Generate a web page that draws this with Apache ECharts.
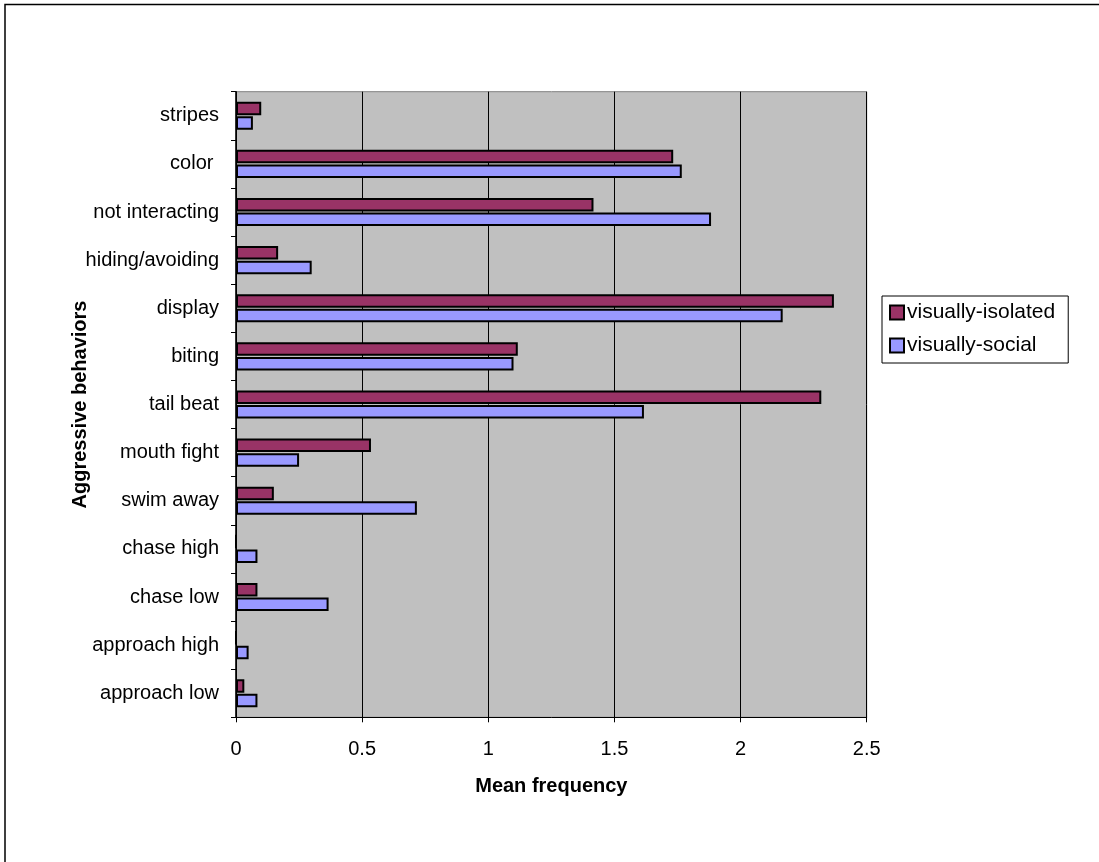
<!DOCTYPE html>
<html>
<head>
<meta charset="utf-8">
<script src="https://cdn.jsdelivr.net/npm/echarts@6/dist/echarts.min.js"></script>
<style>
html,body{margin:0;padding:0;background:#fff;}
#chart{width:1099px;height:862px;}
</style>
</head>
<body>
<div id="chart"></div>
<script>
// Categories listed from bottom to top (ECharts category y-axis starts at the bottom)
const categories = ['approach low','approach high','chase low','chase high','swim away','mouth fight','tail beat','biting','display','hiding/avoiding','not interacting','color ','stripes'];
const isolatedValues = [0.033, 0, 0.085, 0, 0.15, 0.535, 2.32, 1.117, 2.37, 0.167, 1.417, 1.733, 0.1];
const socialValues   = [0.085, 0.05, 0.367, 0.085, 0.717, 0.25, 1.617, 1.1, 2.167, 0.3, 1.883, 1.767, 0.067];
const seriesNames = ['visually-isolated','visually-social'];
const xTicks = [0, 0.5, 1, 1.5, 2, 2.5];

const FONT = '"Liberation Sans", Arial, sans-serif';
const chart = echarts.init(document.getElementById('chart'), null, {renderer:'canvas'});
chart.setOption({
  animation:false,
  backgroundColor:'#fff',
  textStyle:{fontFamily:FONT},
  graphic:[{
    type:'rect', silent:true, z:-1,
    shape:{x:5, y:4.5, width:1200, height:1000},
    style:{fill:'none', stroke:'#000', lineWidth:1.5}
  }],
  grid:{left:236, right:232.3, top:91.7, bottom:144.7, show:true, backgroundColor:'#C0C0C0', borderColor:'#808080', borderWidth:1},
  legend:{
    left:882, top:296, orient:'vertical',
    padding:[6,13,7,7], itemGap:12,
    itemWidth:14, itemHeight:14, icon:'rect',
    borderColor:'#000', borderWidth:1, backgroundColor:'#fff',
    textStyle:{fontFamily:FONT, fontSize:21, color:'#000', padding:[0,0,0,-2]},
    data:seriesNames
  },
  xAxis:{
    type:'value', min:xTicks[0], max:xTicks[xTicks.length-1], interval:0.5,
    name:'Mean frequency', nameLocation:'middle', nameGap:59,
    nameTextStyle:{fontFamily:FONT, fontSize:20, fontWeight:'bold', color:'#000'},
    axisLine:{show:true, lineStyle:{color:'#000', width:1}},
    axisTick:{show:true, length:5, lineStyle:{color:'#000'}},
    axisLabel:{fontFamily:FONT, fontSize:20, color:'#000', margin:22},
    splitLine:{show:true, lineStyle:{color:'#000', width:1}}
  },
  yAxis:{
    type:'category', data:categories,
    name:'Aggressive behaviors', nameLocation:'middle', nameGap:146, nameMoveOverlap:false,
    nameTextStyle:{fontFamily:FONT, fontSize:20, fontWeight:'bold', color:'#000'},
    axisLine:{show:true, lineStyle:{color:'#000', width:1.5}},
    axisTick:{show:true, length:5, lineStyle:{color:'#000'}},
    axisLabel:{fontFamily:FONT, fontSize:20, color:'#000', margin:17},
    splitLine:{show:false}
  },
  series:[
    {name:seriesNames[0], type:'bar', data:isolatedValues, barWidth:13.5, barGap:'9%',
     itemStyle:{color:'#993366', borderColor:'#000', borderWidth:2}},
    {name:seriesNames[1], type:'bar', data:socialValues, barWidth:13.5, barGap:'9%',
     itemStyle:{color:'#9999FF', borderColor:'#000', borderWidth:2}}
  ]
});
</script>
</body>
</html>
